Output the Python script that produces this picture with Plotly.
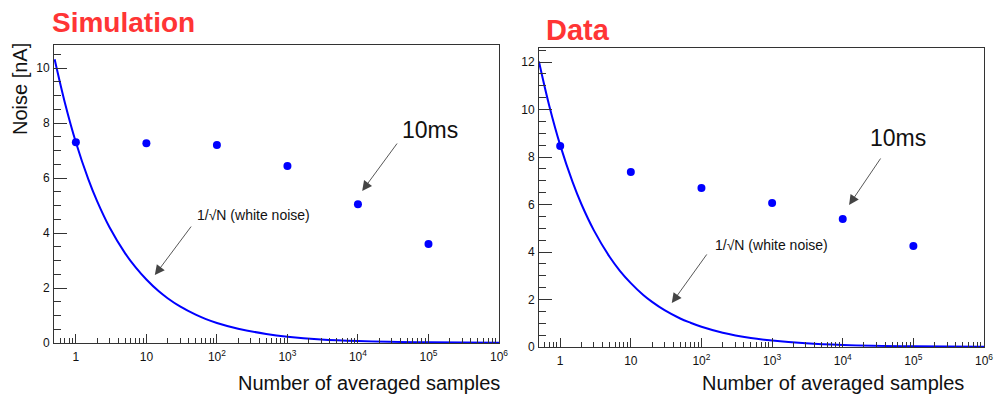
import plotly.graph_objects as go

# ---- data ----
N_points = [1, 10, 100, 1000, 10000, 100000]
sim_noise = [7.3, 7.27, 7.2, 6.44, 5.05, 3.6]
data_noise = [8.46, 7.37, 6.69, 6.06, 5.39, 4.25]

curve_N = [0.5, 0.7, 1, 1.5, 2, 3, 5, 7, 10, 15, 20, 30, 50, 70, 100, 200, 500,
           1000, 3000, 10000, 100000, 1000000]
sim_curve = [10.32, 8.73, 7.30, 5.96, 5.16, 4.21, 3.26, 2.76, 2.31, 1.88, 1.63, 1.33,
             1.03, 0.87, 0.73, 0.52, 0.33, 0.23, 0.13, 0.073, 0.023, 0.0073]
data_curve = [12.02, 10.16, 8.50, 6.94, 6.01, 4.91, 3.80, 3.21, 2.69, 2.19, 1.90, 1.55,
              1.20, 1.02, 0.85, 0.60, 0.38, 0.27, 0.155, 0.085, 0.027, 0.0085]

x_tickvals = [1, 10, 100, 1000, 10000, 100000, 1000000]
x_ticktext = ["1", "10", "10<sup>2</sup>", "10<sup>3</sup>", "10<sup>4</sup>",
              "10<sup>5</sup>", "10<sup>6</sup>"]

FONT = "Liberation Sans, Arial, sans-serif"
BLUE = "#0000ff"
RED = "#ff3535"
W, H = 994, 394

fig = go.Figure()

# curves
fig.add_trace(go.Scatter(x=curve_N, y=sim_curve, mode="lines", line=dict(color=BLUE, width=2, shape="spline"),
                         xaxis="x", yaxis="y", showlegend=False, hoverinfo="skip"))
fig.add_trace(go.Scatter(x=curve_N, y=data_curve, mode="lines", line=dict(color=BLUE, width=2, shape="spline"),
                         xaxis="x2", yaxis="y2", showlegend=False, hoverinfo="skip"))
# points
fig.add_trace(go.Scatter(x=N_points, y=sim_noise, mode="markers", marker=dict(color=BLUE, size=8),
                         xaxis="x", yaxis="y", showlegend=False))
fig.add_trace(go.Scatter(x=N_points, y=data_noise, mode="markers", marker=dict(color=BLUE, size=8),
                         xaxis="x2", yaxis="y2", showlegend=False))


def xaxis_cfg(domain, rng, anchor):
    return dict(type="log", domain=domain, range=rng, anchor=anchor, automargin=False,
                tickvals=x_tickvals, ticktext=x_ticktext,
                ticks="inside", ticklen=9, tickwidth=1, tickcolor="#333",
                minor=dict(ticks="inside", ticklen=5, tickcolor="#333", dtick="D1", showgrid=False),
                showline=True, linecolor="#333", linewidth=1, mirror=True,
                showgrid=False, zeroline=False,
                tickfont=dict(family=FONT, size=12, color="#111"), ticklabelstandoff=3)


def yaxis_cfg(domain, rng, anchor):
    return dict(domain=domain, range=rng, anchor=anchor, dtick=2, tick0=0, automargin=False,
                ticks="inside", ticklen=13, tickwidth=1, tickcolor="#333",
                minor=dict(ticks="inside", ticklen=7, tickcolor="#333", dtick=0.5, showgrid=False),
                showline=True, linecolor="#333", linewidth=1, mirror=True,
                showgrid=False, zeroline=False,
                tickfont=dict(family=FONT, size=12, color="#111"), ticklabelstandoff=1)


px = lambda v: v / W
py = lambda v: 1 - v / H

fig.update_layout(
    width=W, height=H, margin=dict(l=0, r=0, t=0, b=0, autoexpand=False),
    paper_bgcolor="white", plot_bgcolor="white", showlegend=False,
    xaxis=xaxis_cfg([px(54), px(499)], [-0.31, 6], "y"),
    yaxis=yaxis_cfg([py(343), py(45)], [0, 10.84], "x"),
    xaxis2=xaxis_cfg([px(539), px(984)], [-0.30, 6], "y2"),
    yaxis2=yaxis_cfg([py(347), py(48)], [0, 12.59], "x2"),
)

ann = []
# panel titles
ann.append(dict(text="<b>Simulation</b>", x=px(50), y=py(22), xref="paper", yref="paper",
                xanchor="left", yanchor="middle", showarrow=False,
                font=dict(family=FONT, size=28, color=RED)))
ann.append(dict(text="<b>Data</b>", x=px(544), y=py(30), xref="paper", yref="paper",
                xanchor="left", yanchor="middle", showarrow=False,
                font=dict(family=FONT, size=29, color=RED)))
# axis titles
ann.append(dict(text="Noise [nA]", x=px(20), y=py(41), xref="paper", yref="paper",
                xanchor="center", yanchor="top", textangle=-90, showarrow=False,
                font=dict(family=FONT, size=20, color="#111")))
ann.append(dict(text="Number of averaged samples", x=px(502), y=py(383), xref="paper", yref="paper",
                xanchor="right", yanchor="middle", showarrow=False,
                font=dict(family=FONT, size=20, color="#111")))
ann.append(dict(text="Number of averaged samples", x=px(966), y=py(383), xref="paper", yref="paper",
                xanchor="right", yanchor="middle", showarrow=False,
                font=dict(family=FONT, size=20, color="#111")))

# text labels
ann.append(dict(text="10ms", x=4.60, y=7.75, xref="x", yref="y", xanchor="left", yanchor="middle",
                showarrow=False, font=dict(family=FONT, size=23, color="#111")))
ann.append(dict(text="10ms", x=4.36, y=8.8, xref="x2", yref="y2", xanchor="left", yanchor="middle",
                showarrow=False, font=dict(family=FONT, size=23, color="#111")))
ann.append(dict(text="1/√N (white noise)", x=1.69, y=4.65, xref="x", yref="y", xanchor="left",
                yanchor="middle", showarrow=False, font=dict(family=FONT, size=14, color="#111")))
ann.append(dict(text="1/√N (white noise)", x=2.16, y=4.29, xref="x2", yref="y2", xanchor="left",
                yanchor="middle", showarrow=False, font=dict(family=FONT, size=14, color="#111")))

# arrows (head at x,y ; tail at ax,ay)
arrow_style = dict(text="", showarrow=True, arrowhead=2, arrowsize=2.2, arrowwidth=0.9,
                   arrowcolor="#444", standoff=0, startstandoff=0)
ann.append(dict(x=4.06, y=5.53, ax=4.57, ay=7.31, xref="x", yref="y", axref="x", ayref="y", **arrow_style))
ann.append(dict(x=4.09, y=5.98, ax=4.55, ay=8.0, xref="x2", yref="y2", axref="x2", ayref="y2", **arrow_style))
ann.append(dict(x=1.12, y=2.47, ax=1.65, ay=4.29, xref="x", yref="y", axref="x", ayref="y", **arrow_style))
ann.append(dict(x=1.58, y=1.85, ax=2.09, ay=3.96, xref="x2", yref="y2", axref="x2", ayref="y2", **arrow_style))

fig.update_layout(annotations=ann)

fig.write_html("out.html", config={"displayModeBar": False},
               post_script="document.body.style.margin='0px';document.body.style.overflow='hidden';")
